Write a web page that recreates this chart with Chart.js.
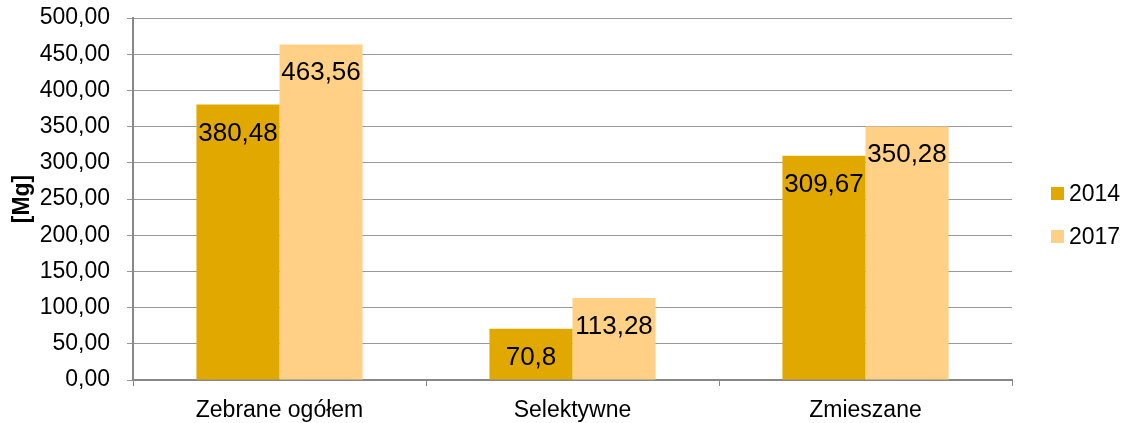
<!DOCTYPE html>
<html>
<head>
<meta charset="utf-8">
<script src="https://cdn.jsdelivr.net/npm/chart.js@4.4.0/dist/chart.umd.min.js"></script>
<style>
  body { margin: 0; background: #fff; }
  #wrap { width: 1130px; height: 423px; }
</style>
</head>
<body>
<div id="wrap"><canvas id="grafica"></canvas></div>
<script>
var kategorie = ['Zebrane ogółem', 'Selektywne', 'Zmieszane'];
var lata = ['2014', '2017'];
var wartosci2014 = [380.48, 70.8, 309.67];
var wartosci2017 = [463.56, 113.28, 350.28];
var etykiety2014 = ['380,48', '70,8', '309,67'];
var etykiety2017 = ['463,56', '113,28', '350,28'];

var FONT = '"Liberation Sans", Arial, sans-serif';

// napisy z wartosciami wewnatrz slupkow
var etykietyPlugin = {
    id: 'etykiety',
    afterDatasetsDraw: function (chart) {
        var ctx = chart.ctx;
        ctx.save();
        ctx.font = '26px ' + FONT;
        ctx.fillStyle = '#000';
        ctx.textAlign = 'center';
        ctx.textBaseline = 'alphabetic';
        chart.data.datasets.forEach(function (ds, i) {
            var meta = chart.getDatasetMeta(i);
            meta.data.forEach(function (bar, j) {
                ctx.fillText(ds.etykiety[j], bar.x, bar.y + 36);
            });
        });
        ctx.restore();
    }
};

// legenda po prawej stronie
var legendaPlugin = {
    id: 'legenda',
    afterDraw: function (chart) {
        var ctx = chart.ctx;
        ctx.save();
        ctx.font = '23px ' + FONT;
        ctx.textAlign = 'left';
        ctx.textBaseline = 'alphabetic';
        chart.data.datasets.forEach(function (ds, i) {
            var cy = 193 + i * 43;
            ctx.fillStyle = ds.backgroundColor;
            ctx.fillRect(1051, cy - 6, 13, 13);
            ctx.fillStyle = '#000';
            ctx.fillText(ds.label, 1069, cy + 8);
        });
        ctx.restore();
    }
};

var canvas = document.getElementById('grafica').getContext('2d');
var wykres = new Chart(canvas, {
    type: 'bar',
    data: {
        labels: kategorie,
        datasets: [{
            label: lata[0],
            data: wartosci2014,
            etykiety: etykiety2014,
            backgroundColor: '#E1A900'
        }, {
            label: lata[1],
            data: wartosci2017,
            etykiety: etykiety2017,
            backgroundColor: '#FFD085'
        }]
    },
    options: {
        responsive: true,
        maintainAspectRatio: false,
        animation: false,
        layout: { padding: { top: 18, right: 118, bottom: 0, left: 0 } },
        datasets: { bar: { categoryPercentage: 0.567, barPercentage: 1 } },
        plugins: {
            legend: { display: false },
            tooltip: { enabled: false }
        },
        scales: {
            x: {
                grid: { offset: true, drawOnChartArea: false, drawTicks: true, tickLength: 6, color: '#888' },
                border: { color: '#888', width: 2 },
                ticks: { color: '#000', font: { family: FONT, size: 23 }, padding: 11 },
                afterFit: function (scale) { scale.height = 43; }
            },
            y: {
                min: 0,
                max: 500,
                grid: { color: '#999', tickLength: 6, lineWidth: 1 },
                border: { color: '#888', width: 2 },
                ticks: {
                    stepSize: 50,
                    color: '#000',
                    padding: 17,
                    font: { family: FONT, size: 23 },
                    callback: function (v) { return v.toFixed(2).replace('.', ','); }
                },
                title: {
                    display: true,
                    text: '[Mg]',
                    color: '#000',
                    font: { family: FONT, size: 23, weight: 'bold' },
                    padding: { top: 9, bottom: 0 }
                },
                afterFit: function (scale) {
                    scale.width = 133;
                    scale.paddingTop = 0;
                    scale.paddingBottom = 0;
                }
            }
        }
    },
    plugins: [etykietyPlugin, legendaPlugin]
});
</script>
</body>
</html>
